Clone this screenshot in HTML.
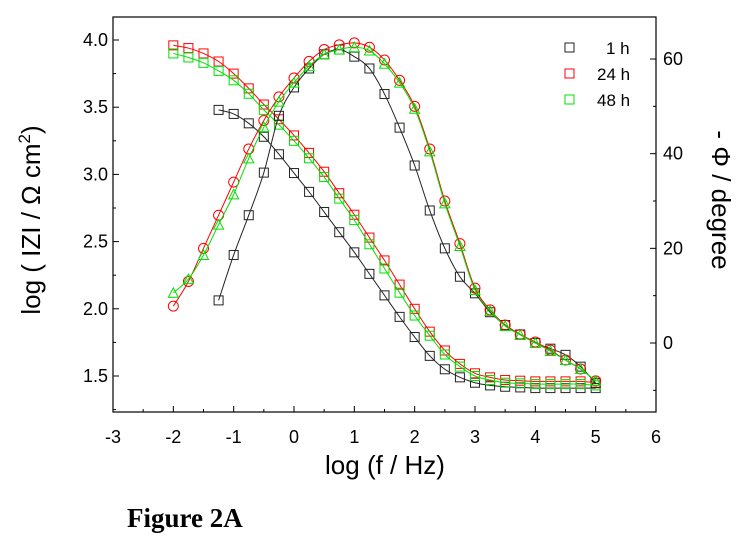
<!DOCTYPE html>
<html><head><meta charset="utf-8"><style>
body{margin:0;background:#fff;width:746px;height:550px;overflow:hidden}
svg{display:block;font-family:"Liberation Sans",sans-serif}
</style></head><body>
<svg id="c" width="746" height="550"></svg>
<script>
const freq1=[-1.25,-1,-0.75,-0.5,-0.25,0,0.25,0.5,0.75,1,1.25,1.5,1.75,2,2.25,2.5,2.75,3,3.25,3.5,3.75,4,4.25,4.5,4.75,5];
const z1=[3.48,3.45,3.38,3.28,3.15,3.01,2.87,2.72,2.57,2.42,2.26,2.1,1.94,1.79,1.65,1.55,1.49,1.45,1.43,1.42,1.415,1.41,1.41,1.41,1.41,1.41];
const p1=[9,18.6,27,36,48,54,58,61,62,60.5,58,52.6,45.5,37.5,28,20,14,10.5,6.5,3.8,1.8,0,-1.2,-2.5,-5,-8.5];
const freq2=[-2,-1.75,-1.5,-1.25,-1,-0.75,-0.5,-0.25,0,0.25,0.5,0.75,1,1.25,1.5,1.75,2,2.25,2.5,2.75,3,3.25,3.5,3.75,4,4.25,4.5,4.75,5];
const z24=[3.96,3.94,3.9,3.84,3.75,3.64,3.52,3.41,3.29,3.16,3.02,2.86,2.7,2.53,2.36,2.18,2.0,1.83,1.69,1.59,1.52,1.49,1.47,1.465,1.46,1.46,1.46,1.46,1.45];
const p24=[7.8,13,20,27,34,41,47,52,56,59.5,62,63,63.4,62.5,59.8,55.5,50,41,30,21,11.6,7,3.8,1.8,0.2,-1.5,-3.6,-5.5,-8];
const z48=[3.9,3.87,3.83,3.77,3.7,3.6,3.48,3.37,3.25,3.12,2.98,2.82,2.66,2.48,2.3,2.12,1.95,1.8,1.66,1.57,1.5,1.47,1.45,1.445,1.44,1.44,1.44,1.44,1.43];
const p48=[10.6,13.5,18.6,25,31.4,39,45.6,51,55,58.5,61,62,62.5,61.8,59,55,49.5,40.5,29.5,20.5,11.2,6.8,3.6,1.7,0,-1.7,-3.6,-5.5,-8];
const xTicks=[-3,-2,-1,0,1,2,3,4,5,6];
const yTicks=[1.5,2.0,2.5,3.0,3.5,4.0];
const y2Ticks=[0,20,40,60];
const legendLabels=["1 h","24 h","48 h"];

const L=113,R=656,T=17,B=412;
const X=v=>L+(v+3)*(R-L)/9;
const Y=v=>40+(4.0-v)*134.4;
const Y2=v=>343-v*4.733;
const NS="http://www.w3.org/2000/svg";
const svg=document.getElementById('c');
function mk(tag,at,parent){const e=document.createElementNS(NS,tag);for(const k in at)e.setAttribute(k,at[k]);(parent||svg).appendChild(e);return e;}

const frame=mk('rect',{x:L,y:T,width:R-L,height:B-T,fill:'none',stroke:'#000','stroke-width':1.2});



xTicks.forEach((t,i)=>{
  const x=X(t);
  mk('line',{x1:x,y1:B,x2:x,y2:B-6,stroke:'#000'});
  if(i<xTicks.length-1) mk('line',{x1:X(t+0.5),y1:B,x2:X(t+0.5),y2:B-3,stroke:'#000'});
  const tx=mk('text',{x:x,y:B+31,'font-size':18,'text-anchor':'middle'});
  tx.textContent=t;
  
  
});
yTicks.forEach(t=>{
  const y=Y(t);
  mk('line',{x1:L,y1:y,x2:L+6,y2:y,stroke:'#000'});
  mk('line',{x1:L,y1:Y(t-0.25),x2:L+3,y2:Y(t-0.25),stroke:'#000'});
  const tx=mk('text',{x:L-5,y:y+6,'font-size':18,'text-anchor':'end'});
  tx.textContent=t.toFixed(1);
  
  
});
y2Ticks.forEach(t=>{
  const y=Y2(t);
  mk('line',{x1:R,y1:y,x2:R-6,y2:y,stroke:'#000'});
  mk('line',{x1:R,y1:Y2(t-10),x2:R-3,y2:Y2(t-10),stroke:'#000'});
  const tx=mk('text',{x:R+7,y:y+6,'font-size':18});
  tx.textContent=t;
  
  
});

function smooth(pts){
  let d='M'+pts[0][0]+','+pts[0][1];
  for(let i=0;i<pts.length-1;i++){
    const p0=pts[i-1]||pts[i],p1=pts[i],p2=pts[i+1],p3=pts[i+2]||p2;
    d+=' C'+(p1[0]+(p2[0]-p0[0])/6)+','+(p1[1]+(p2[1]-p0[1])/6)+' '+(p2[0]-(p3[0]-p1[0])/6)+','+(p2[1]-(p3[1]-p1[1])/6)+' '+p2[0]+','+p2[1];
  }
  return d;
}
function series(fr,vals,yf,color,shape,name){
  const g=mk('g',{});
  
  
  const pts=fr.map((f,i)=>[X(f),yf(vals[i])]);
  const ln=mk('path',{d:smooth(pts),fill:'none',stroke:color,'stroke-width':1},g);
  
  
  pts.forEach(p=>{
    let m;
    if(shape==='sq') m=mk('rect',{x:p[0]-4.5,y:p[1]-4.5,width:9,height:9,fill:'none',stroke:color,'stroke-width':1},g);
    else if(shape==='ci') m=mk('circle',{cx:p[0],cy:p[1],r:5,fill:'none',stroke:color,'stroke-width':1},g);
    else m=mk('polygon',{points:(p[0]-5)+','+(p[1]+4.5)+' '+(p[0]+5)+','+(p[1]+4.5)+' '+p[0]+','+(p[1]-5),fill:'none',stroke:color,'stroke-width':1},g);
    
    
  });
}
series(freq1,z1,Y,'#222','sq','modulus-1h');
series(freq2,z24,Y,'#ff0000','sq','modulus-24h');
series(freq2,z48,Y,'#00e000','sq','modulus-48h');
series(freq1,p1,Y2,'#222','sq','phase-1h');
series(freq2,p24,Y2,'#ff0000','ci','phase-24h');
series(freq2,p48,Y2,'#00e000','tr','phase-48h');

const lc=['#222','#ff0000','#00e000'];
legendLabels.forEach((s,i)=>{
  const y=48+i*26;
  const r=mk('rect',{x:565,y:y-5,width:9,height:9,fill:'none',stroke:lc[i]});
  
  
  const t=mk('text',{x:i===0?606:597,y:y+6,'font-size':17});
  t.textContent=s;
  
  
});

const xl=mk('text',{x:385,y:474,'font-size':26,'text-anchor':'middle'});
xl.textContent='log (f / Hz)';


const yl=mk('text',{x:0,y:0,'font-size':26,'text-anchor':'middle',transform:'translate(40,220) rotate(-90)'});
yl.innerHTML='log ( IZI / Ω cm<tspan font-size="17" dy="-10">2</tspan><tspan dy="10">)</tspan>';


const y2l=mk('text',{x:0,y:0,'font-size':26,'text-anchor':'middle',transform:'translate(712,200) rotate(90)'});
y2l.textContent='- Φ / degree';


const fig=mk('text',{x:127,y:527,'font-size':27,'font-weight':'bold','font-family':'Liberation Serif, serif'});
fig.textContent='Figure 2A';


</script>
</body></html>
